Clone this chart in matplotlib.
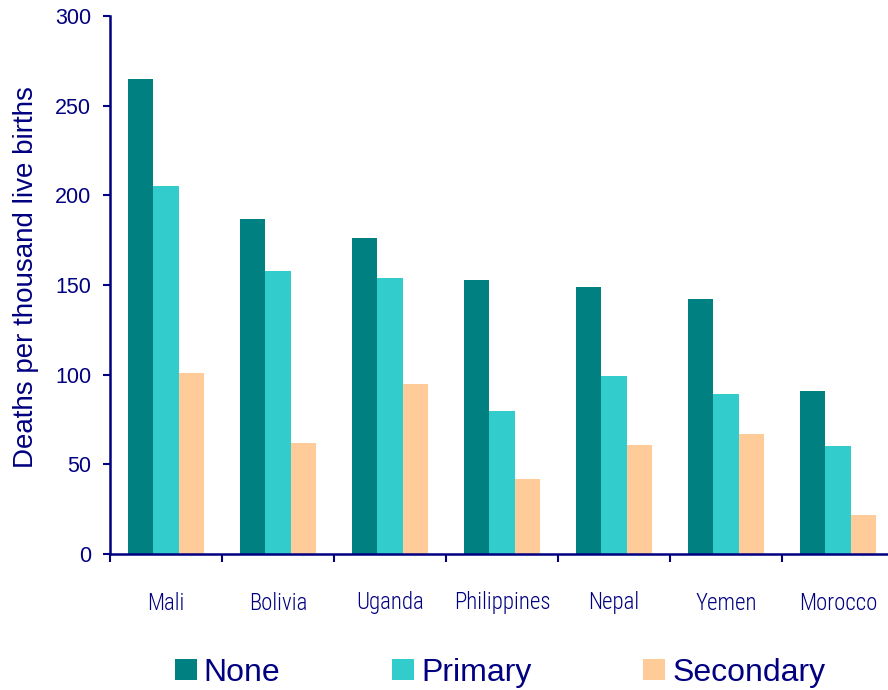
import matplotlib.pyplot as plt
import numpy as np
from matplotlib.patches import Patch

countries = ["Mali", "Bolivia", "Uganda", "Philippines", "Nepal", "Yemen", "Morocco"]
none_vals = [265, 187, 176, 153, 149, 142, 91]
primary_vals = [205, 158, 154, 80, 99, 89, 60]
secondary_vals = [101, 62, 95, 42, 61, 67, 22]
series_names = ["None", "Primary", "Secondary"]
series_colors = ["#008080", "#33CCCC", "#FFCC99"]
y_ticks = [0, 50, 100, 150, 200, 250, 300]

NAVY = "#000080"
W, H = 888, 690

plt.rcParams["font.family"] = ["Liberation Sans", "DejaVu Sans"]

fig = plt.figure(figsize=(W / 100, H / 100), dpi=100)
ax = fig.add_axes([110 / W, 136 / H, 784 / W, 538 / H])

x = np.arange(len(countries)) + 0.5
bar_w = 0.226
for k, (vals, color) in enumerate(zip([none_vals, primary_vals, secondary_vals], series_colors)):
    ax.bar(x + (k - 1) * bar_w, vals, width=bar_w, color=color, linewidth=0)

ax.set_xlim(0, len(countries))
ax.set_ylim(0, 300)

for side in ("top", "right"):
    ax.spines[side].set_visible(False)
for side in ("left", "bottom"):
    ax.spines[side].set_color(NAVY)
    ax.spines[side].set_linewidth(1.8)

ax.set_yticks(y_ticks)
ax.set_yticklabels([str(v) for v in y_ticks])
ax.tick_params(axis="y", direction="out", length=5, width=1.5, color=NAVY,
               labelcolor=NAVY, labelsize=15.5, pad=8.6)

# category boundaries get the ticks, names sit between them
ax.set_xticks(np.arange(len(countries) + 1))
ax.set_xticklabels([])
ax.tick_params(axis="x", which="major", direction="out", length=5.8, width=1.5, color=NAVY)
ax.set_xticks(x, minor=True)
ax.set_xticklabels(countries, minor=True, fontweight="light",
                   fontfamily=["Roboto Condensed", "PT Sans Narrow", "Liberation Sans"])
ax.tick_params(axis="x", which="minor", length=0, labelcolor=NAVY, labelsize=16.5, pad=27)

fig.text(26 / W, 1 - 468 / H, "Deaths per thousand live births", rotation=90,
         ha="center", va="bottom", fontsize=20, color=NAVY)

handles = [Patch(facecolor=c, edgecolor="none") for c in series_colors]
leg = fig.legend(handles, series_names, loc="center", bbox_to_anchor=(500 / W, 1 - 673 / H),
                 ncol=3, frameon=False, fontsize=23, handlelength=0.69, handleheight=0.62,
                 handletextpad=0.22, columnspacing=3.5, borderpad=0, borderaxespad=0)
for t in leg.get_texts():
    t.set_color(NAVY)

fig.savefig("out.png", dpi=100)
